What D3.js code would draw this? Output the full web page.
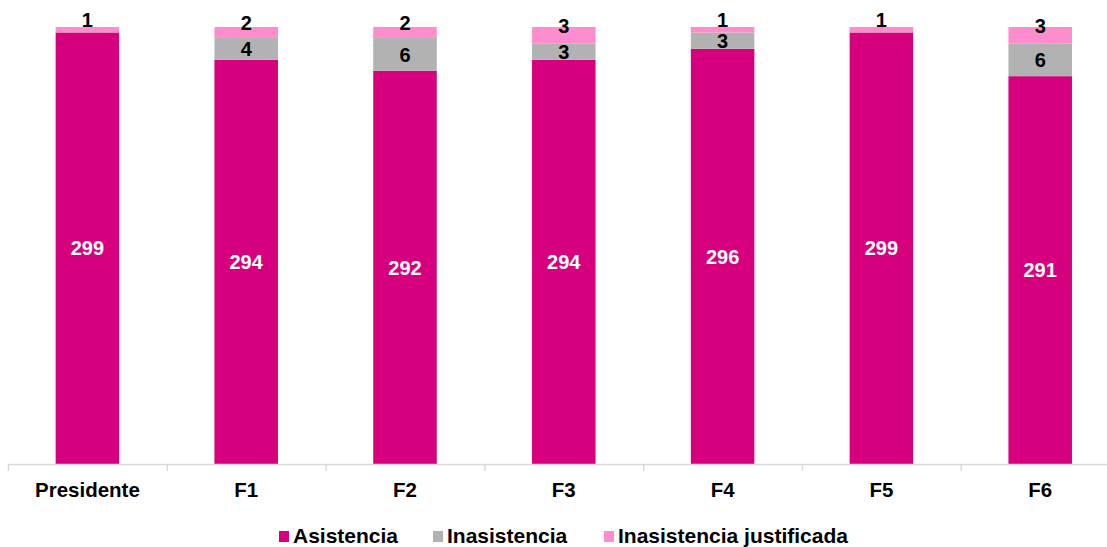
<!DOCTYPE html>
<html><head><meta charset="utf-8">
<script src="https://cdn.jsdelivr.net/npm/d3@7/dist/d3.min.js"></script>
<style>body{margin:0;background:#fff}svg{display:block;font-family:"Liberation Sans",Arial,sans-serif}</style>
</head><body>
<svg id="c" width="1107" height="547"></svg>
<script>
const categories = ["Presidente","F1","F2","F3","F4","F5","F6"];
const seriesNames = ["Asistencia","Inasistencia","Inasistencia justificada"];
const asistencia = [299,294,292,294,296,299,291];
const inasistencia = [0,4,6,3,3,0,6];
const justificada = [1,2,2,3,1,1,3];
const colors = ["#d6007e","#b2b2b2","#ff8ccc"];

const svg = d3.select("#c");
const x = d3.scaleBand().domain(categories).range([8, 8 + 7*158.8]).paddingInner(0.6).paddingOuter(0.3);
const y = d3.scaleLinear().domain([220,300]).range([464,27]);

const rows = categories.map((c,i)=>({cat:c, Asistencia:asistencia[i], Inasistencia:inasistencia[i], "Inasistencia justificada":justificada[i]}));
const stack = d3.stack().keys(seriesNames)(rows);

const g = svg.append("g");
stack.forEach((layer,li)=>{
  g.selectAll(null).data(layer).join("rect")
    .attr("x", d=>x(d.data.cat))
    .attr("width", x.bandwidth())
    .attr("y", d=>y(Math.max(d[1],220)))
    .attr("height", d=>Math.max(0, y(Math.max(d[0],220)) - y(Math.max(d[1],220))))
    .attr("fill", colors[li]);
});

// axis
const axisG = svg.append("g");
axisG.append("line").attr("x1",8).attr("x2",1107).attr("y1",464.5).attr("y2",464.5).attr("stroke","#d9d9d9").attr("stroke-width",1.5);
categories.forEach((c,i)=>{
  const bx = 8 + i*x.step();
  axisG.append("line").attr("x1",bx+0.5).attr("x2",bx+0.5).attr("y1",464).attr("y2",471).attr("stroke","#d9d9d9").attr("stroke-width",1.5);
});
axisG.selectAll(null).data(categories).join("text")
  .attr("x", d=>x(d)+x.bandwidth()/2).attr("y",497)
  .attr("text-anchor","middle").attr("font-weight","bold").attr("font-size",20.5).attr("fill","#000")
  .text(d=>d);

// labels
stack.forEach((layer,li)=>{
  g.selectAll(null).data(layer.filter(d=>d[1]-d[0]>0)).join("text")
    .attr("x", d=>x(d.data.cat)+x.bandwidth()/2)
    .attr("y", d=>{
      const mid = (y(Math.max(d[0],220)) + y(d[1]))/2;
      return (li===2 ? mid - 9.5 : mid) + 7.2;
    })
    .attr("text-anchor","middle").attr("font-weight","bold").attr("font-size",20)
    .attr("fill", li===0 ? "#fff" : "#000")
    .text(d=>d[1]-d[0]);
});

// legend
const legX = [279, 433, 604];
const leg = svg.append("g");
seriesNames.forEach((s,i)=>{
  leg.append("rect").attr("x",legX[i]).attr("y",531).attr("width",10).attr("height",11).attr("fill",colors[i]);
  leg.append("text").attr("x",legX[i]+14).attr("y",542.5).attr("font-weight","bold").attr("font-size",21).attr("fill","#000").text(s);
});
</script>
</body></html>
